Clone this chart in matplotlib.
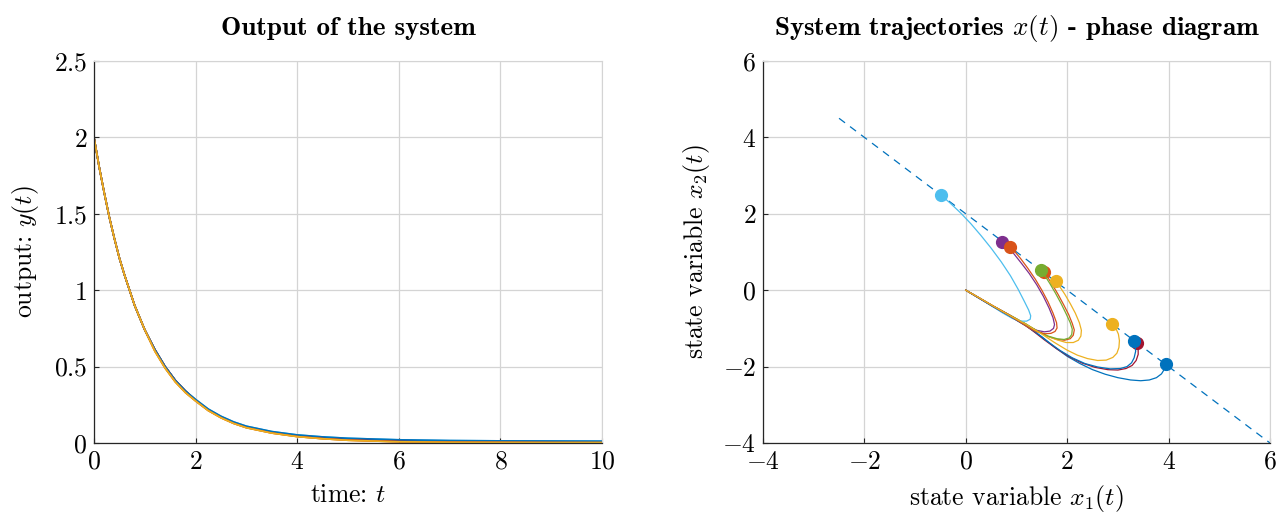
import matplotlib
matplotlib.use("Agg")
import matplotlib.pyplot as plt

plt.rcParams['font.family'] = 'cmr10'
plt.rcParams['mathtext.fontset'] = 'cm'
plt.rcParams['axes.formatter.use_mathtext'] = True

# colours (matlab default order)
blue = '#0072BD'
orange = '#D95319'
yellow = '#EDB120'
purple = '#7E2F8E'
green = '#77AC30'
lblue = '#4DBEEE'
red = '#A2142F'

# output y(t)
t = [0, 0.1, 0.2, 0.3, 0.4, 0.5, 0.6, 0.8, 1.0, 1.2, 1.4, 1.6, 1.8, 2.0, 2.25,
     2.5, 2.75, 3.0, 3.5, 4.0, 4.5, 5.0, 6.0, 7.0, 8.0, 9.0, 10.0]
y_high = [2.0, 1.81, 1.64, 1.48, 1.34, 1.21, 1.10, 0.90, 0.74, 0.61, 0.50, 0.41, 0.34, 0.285, 0.222,
          0.175, 0.138, 0.11, 0.075, 0.053, 0.04, 0.031, 0.021, 0.016, 0.014, 0.013, 0.012]
y_mid = [2.0, 1.81, 1.64, 1.48, 1.34, 1.21, 1.10, 0.90, 0.74, 0.61, 0.50, 0.41, 0.34, 0.28, 0.217,
         0.17, 0.133, 0.105, 0.07, 0.048, 0.035, 0.026, 0.016, 0.011, 0.009, 0.008, 0.007]
y_low = [2.0, 1.81, 1.64, 1.48, 1.34, 1.21, 1.10, 0.90, 0.74, 0.60, 0.49, 0.40, 0.33, 0.275, 0.212,
         0.165, 0.128, 0.10, 0.065, 0.042, 0.028, 0.018, 0.008, 0.005, 0.004, 0.003, 0.003]

# phase trajectories (x1, x2), start point first
tr1_x1 = [3.94, 3.92, 3.86, 3.76, 3.62, 3.45, 3.25, 3.0, 2.75, 2.5, 2.25, 2.0, 1.75, 1.5, 1.18, 0.85, 0.52, 0.25, 0]
tr1_x2 = [-1.92, -2.06, -2.19, -2.29, -2.35, -2.37, -2.35, -2.29, -2.2, -2.08, -1.92, -1.73, -1.49, -1.22, -0.93, -0.67, -0.42, -0.2, 0]

tr2_x1 = [1.54, 1.61, 1.71, 1.82, 1.93, 2.03, 2.1, 2.14, 2.12, 2.06, 1.95, 1.8, 1.62, 1.4, 1.18, 0.85, 0.52, 0.25, 0]
tr2_x2 = [0.48, 0.35, 0.14, -0.11, -0.38, -0.64, -0.87, -1.04, -1.18, -1.27, -1.31, -1.29, -1.21, -1.07, -0.88, -0.64, -0.4, -0.19, 0]

tr3_x1 = [1.77, 1.85, 1.95, 2.06, 2.16, 2.24, 2.28, 2.27, 2.22, 2.12, 1.98, 1.8, 1.6, 1.4, 1.18, 0.85, 0.52, 0.25, 0]
tr3_x2 = [0.23, 0.1, -0.1, -0.35, -0.6, -0.85, -1.05, -1.2, -1.31, -1.37, -1.37, -1.3, -1.2, -1.06, -0.89, -0.65, -0.4, -0.19, 0]

tr4_x1 = [0.72, 0.82, 0.95, 1.1, 1.25, 1.4, 1.53, 1.64, 1.72, 1.75, 1.73, 1.66, 1.55, 1.4, 1.25, 1.1, 0.85, 0.52, 0.25, 0]
tr4_x2 = [1.27, 1.14, 0.95, 0.7, 0.44, 0.14, -0.16, -0.46, -0.72, -0.9, -1.0, -1.07, -1.09, -1.05, -0.96, -0.84, -0.64, -0.4, -0.19, 0]

tr5_x1 = [1.48, 1.56, 1.66, 1.77, 1.88, 1.98, 2.06, 2.1, 2.09, 2.04, 1.94, 1.8, 1.62, 1.4, 1.18, 0.85, 0.52, 0.25, 0]
tr5_x2 = [0.52, 0.38, 0.17, -0.08, -0.35, -0.62, -0.85, -1.02, -1.16, -1.25, -1.29, -1.27, -1.2, -1.06, -0.88, -0.64, -0.4, -0.19, 0]

tr6_x1 = [-0.48, -0.3, -0.1, 0.1, 0.3, 0.5, 0.7, 0.88, 1.03, 1.15, 1.24, 1.28, 1.27, 1.2, 1.08, 0.92, 0.72, 0.5, 0.25, 0]
tr6_x2 = [2.48, 2.27, 2.02, 1.74, 1.43, 1.1, 0.74, 0.38, 0.03, -0.28, -0.52, -0.67, -0.76, -0.81, -0.81, -0.74, -0.59, -0.4, -0.19, 0]

tr7_x1 = [3.38, 3.40, 3.40, 3.36, 3.28, 3.16, 3.0, 2.8, 2.55, 2.3, 2.05, 1.8, 1.55, 1.3, 1.18, 0.85, 0.52, 0.25, 0]
tr7_x2 = [-1.39, -1.52, -1.68, -1.84, -1.97, -2.05, -2.09, -2.08, -2.02, -1.91, -1.75, -1.54, -1.3, -1.04, -0.92, -0.66, -0.41, -0.2, 0]

tr8_x1 = [3.31, 3.34, 3.35, 3.32, 3.27, 3.18, 3.05, 2.85, 2.6, 2.35, 2.1, 1.85, 1.6, 1.35, 1.18, 0.85, 0.52, 0.25, 0]
tr8_x2 = [-1.33, -1.45, -1.6, -1.77, -1.9, -2.0, -2.05, -2.06, -2.01, -1.92, -1.77, -1.57, -1.33, -1.07, -0.92, -0.66, -0.41, -0.2, 0]

tr9_x1 = [0.87, 0.96, 1.08, 1.22, 1.37, 1.5, 1.62, 1.72, 1.79, 1.8, 1.76, 1.68, 1.56, 1.4, 1.25, 1.1, 0.85, 0.52, 0.25, 0]
tr9_x2 = [1.14, 1.02, 0.83, 0.58, 0.29, 0.0, -0.3, -0.6, -0.85, -0.99, -1.08, -1.13, -1.14, -1.09, -0.99, -0.86, -0.65, -0.4, -0.19, 0]

tr10_x1 = [2.89, 2.96, 3.01, 3.03, 3.02, 2.98, 2.9, 2.77, 2.6, 2.4, 2.2, 2.0, 1.75, 1.5, 1.18, 0.85, 0.52, 0.25, 0]
tr10_x2 = [-0.89, -1.0, -1.15, -1.32, -1.5, -1.65, -1.76, -1.83, -1.84, -1.79, -1.7, -1.57, -1.37, -1.15, -0.89, -0.65, -0.4, -0.19, 0]

# line of initial conditions x1 + x2 = 2
dash_x1 = [-2.5, 6]
dash_x2 = [4.5, -4]

trajs = [(tr1_x1, tr1_x2, blue, y_mid),
         (tr2_x1, tr2_x2, orange, y_mid),
         (tr3_x1, tr3_x2, yellow, y_low),
         (tr4_x1, tr4_x2, purple, y_mid),
         (tr5_x1, tr5_x2, green, y_mid),
         (tr6_x1, tr6_x2, lblue, y_high),
         (tr7_x1, tr7_x2, red, y_mid),
         (tr8_x1, tr8_x2, blue, y_high),
         (tr9_x1, tr9_x2, orange, y_low),
         (tr10_x1, tr10_x2, yellow, y_low)]

grid_c = '#d4d4d4'
axis_c = '#262626'
fs = 18.5


def style(ax):
    ax.grid(True, color=grid_c, linewidth=0.9)
    ax.set_axisbelow(True)
    for s in ['top', 'right']:
        ax.spines[s].set_color(grid_c)
    for s in ['left', 'bottom']:
        ax.spines[s].set_color(axis_c)
        ax.spines[s].set_linewidth(0.9)
    ax.tick_params(direction='in', length=3.5, color=axis_c, labelsize=fs, pad=5)


fig = plt.figure(figsize=(12.84, 5.14), dpi=100)
ax1 = fig.add_axes([94 / 1284, 71 / 514, 508 / 1284, 382 / 514])
ax2 = fig.add_axes([763 / 1284, 71 / 514, 507 / 1284, 382 / 514])

# left: output
for x1, x2, c, yy in trajs:
    ax1.plot(t, yy, color=c, linewidth=1.2)
ax1.set_xlim(0, 10)
ax1.set_ylim(0, 2.5)
ax1.set_xticks([0, 2, 4, 6, 8, 10])
ax1.set_yticks([0, 0.5, 1, 1.5, 2, 2.5])
ax1.set_yticklabels(['$0$', '$0.5$', '$1$', '$1.5$', '$2$', '$2.5$'])
ax1.set_xlabel('time: $t$', fontsize=fs, labelpad=7)
ax1.set_ylabel('output: $y(t)$', fontsize=fs, labelpad=9)
ax1.set_title('Output of the system', fontsize=19.5, fontfamily='cmb10', pad=19)
style(ax1)

# right: phase diagram
ax2.plot(dash_x1, dash_x2, color=blue, linewidth=0.9, linestyle=(0, (6, 5)))
for x1, x2, c, yy in trajs:
    ax2.plot(x1, x2, color=c, linewidth=0.9)
    ax2.plot(x1[0], x2[0], 'o', color=c, markersize=8.5)
ax2.set_xlim(-4, 6)
ax2.set_ylim(-4, 6)
ax2.set_xticks([-4, -2, 0, 2, 4, 6])
ax2.set_yticks([-4, -2, 0, 2, 4, 6])
ax2.set_xlabel('state variable $x_1(t)$', fontsize=fs, labelpad=7)
ax2.set_ylabel('state variable $x_2(t)$', fontsize=fs, labelpad=7)
ax2.set_title('System trajectories $x(t)$ - phase diagram', fontsize=19.5, fontfamily='cmb10', pad=19)
style(ax2)

fig.savefig('out.png', dpi=100)
